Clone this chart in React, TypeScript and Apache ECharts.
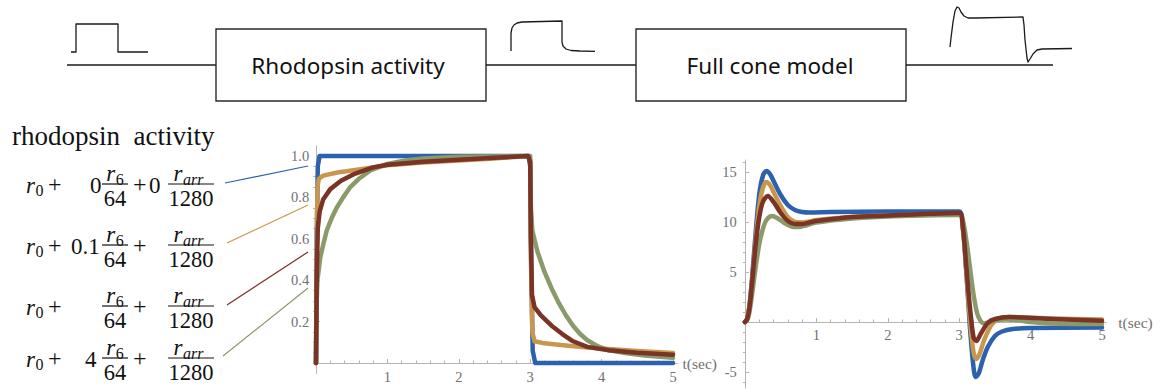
import React, { useEffect, useRef } from "react";
import * as echarts from "echarts";

// ---------- colours ----------
const BLUE = "#2C62AD";
const GOLD = "#C9964E";
const BROWN = "#7A3325";
const GREEN = "#8A9A6B";
const AXIS = "#b5b5b5";
const LABEL = "#707070";
const SERIF = '"Liberation Serif", "Times New Roman", serif';
const SANS = '"Noto Sans", "Open Sans", sans-serif';

// ---------- left chart: rhodopsin activity [t, value] ----------
const rhoBlue = [[0, 0], [0.01, 0.6], [0.025, 0.95], [0.05, 1], [2.98, 1], [3.0, 0.95], [3.015, 0.45], [3.035, 0.06], [3.07, 0], [5, 0]];
const rhoGold = [[0, 0], [0.01, 0.5], [0.02, 0.85], [0.04, 0.89], [0.1, 0.905], [0.3, 0.92], [0.6, 0.935], [1, 0.955], [1.5, 0.968], [2, 0.978], [2.5, 0.988], [2.97, 1.0], [3.0, 0.98], [3.01, 0.5], [3.03, 0.15], [3.06, 0.105], [3.2, 0.095], [3.5, 0.085], [3.8, 0.075], [4.1, 0.068], [4.5, 0.058], [5, 0.048]];
const rhoGreen = [[0, 0], [0.01, 0.3], [0.02, 0.4], [0.06, 0.51], [0.1, 0.57], [0.15, 0.64], [0.22, 0.7], [0.29, 0.75], [0.38, 0.8], [0.48, 0.85], [0.6, 0.89], [0.76, 0.93], [1, 0.962], [1.25, 0.978], [1.5, 0.988], [2, 0.996], [3, 1.0], [3.01, 0.75], [3.03, 0.64], [3.1, 0.54], [3.2, 0.44], [3.3, 0.36], [3.4, 0.29], [3.5, 0.23], [3.6, 0.18], [3.7, 0.14], [3.8, 0.11], [3.95, 0.08], [4.1, 0.062], [4.3, 0.05], [4.6, 0.036], [5, 0.025]];
const rhoBrown = [[0, 0], [0.01, 0.4], [0.025, 0.65], [0.05, 0.73], [0.1, 0.79], [0.2, 0.84], [0.35, 0.88], [0.55, 0.915], [0.8, 0.945], [1, 0.958], [1.5, 0.972], [2, 0.982], [2.5, 0.991], [2.97, 1.0], [3.0, 0.97], [3.01, 0.6], [3.025, 0.33], [3.06, 0.27], [3.15, 0.23], [3.3, 0.18], [3.45, 0.14], [3.6, 0.105], [3.8, 0.078], [4.1, 0.062], [4.5, 0.05], [5, 0.04]];

// ---------- right chart: full cone model [t, value] ----------
const coneBlue = [[0, 0], [0.03, 0.3], [0.06, 1.5], [0.1, 4.5], [0.15, 9], [0.2, 12.8], [0.25, 14.6], [0.3, 15.1], [0.35, 14.8], [0.4, 14.1], [0.5, 12.7], [0.6, 11.7], [0.7, 11.2], [0.8, 11.0], [0.9, 10.95], [1.2, 11.0], [2, 11.05], [3, 11.05], [3.05, 9.5], [3.1, 5], [3.15, -0.5], [3.2, -4.5], [3.23, -5.5], [3.27, -5.2], [3.33, -3.8], [3.4, -2.5], [3.5, -1.4], [3.6, -0.95], [3.75, -0.7], [4, -0.6], [5, -0.55]];
const coneGold = [[0, 0], [0.03, 0.3], [0.06, 1.4], [0.1, 4.2], [0.15, 8.3], [0.2, 11.6], [0.25, 13.4], [0.3, 14.0], [0.35, 13.7], [0.4, 13], [0.5, 11.6], [0.6, 10.5], [0.7, 10.0], [0.8, 9.95], [0.9, 10.05], [1, 10.2], [1.5, 10.5], [2, 10.65], [2.5, 10.75], [3, 10.8], [3.05, 9.4], [3.1, 5], [3.15, 0.3], [3.2, -3], [3.24, -3.7], [3.28, -3.3], [3.35, -1.8], [3.45, -0.3], [3.55, 0.3], [3.7, 0.5], [3.9, 0.45], [4.3, 0.35], [5, 0.25]];
const coneGreen = [[0, 0], [0.03, 0.2], [0.06, 0.9], [0.1, 2.8], [0.15, 5.5], [0.2, 7.8], [0.25, 9.3], [0.3, 10.2], [0.38, 10.6], [0.45, 10.4], [0.55, 9.9], [0.65, 9.55], [0.75, 9.5], [0.85, 9.65], [1, 9.95], [1.5, 10.35], [2, 10.55], [2.5, 10.65], [3, 10.7], [3.05, 10.2], [3.1, 8.2], [3.15, 5.5], [3.2, 2.8], [3.25, 0.9], [3.3, 0.1], [3.35, -0.15], [3.4, -0.05], [3.5, 0.15], [3.65, 0.25], [3.8, 0.2], [4, 0.0], [4.3, -0.15], [5, -0.2]];
const coneBrown = [[0, 0], [0.03, 0.3], [0.06, 1.3], [0.1, 4], [0.15, 7.8], [0.2, 10.5], [0.25, 12], [0.32, 12.6], [0.4, 12], [0.5, 10.9], [0.6, 10.1], [0.7, 9.8], [0.8, 9.8], [0.9, 9.95], [1, 10.1], [1.5, 10.5], [2, 10.65], [2.5, 10.8], [3, 10.9], [3.05, 9.6], [3.1, 5.5], [3.15, 1.5], [3.2, -1.5], [3.24, -1.9], [3.3, -1.2], [3.4, -0.1], [3.5, 0.3], [3.7, 0.5], [3.9, 0.45], [4.3, 0.3], [5, 0.12]];

// ---------- tick labels ----------
const leftXTicks = [1, 2, 3, 4, 5];
const leftYTicks = [0.2, 0.4, 0.6, 0.8, 1.0];
const rightXTicks = [1, 2, 3, 4, 5];
const rightYTicks = [-5, 5, 10, 15];

const leftXMinor: number[] = [];
for (let i = 1; i <= 25; i++) if (i % 5 !== 0) leftXMinor.push(+(i * 0.2).toFixed(2));
const leftYMinor: number[] = [];
for (let i = 1; i <= 20; i++) if (i % 4 !== 0) leftYMinor.push(+(i * 0.05).toFixed(2));
const rightXMinor = leftXMinor.slice();
const rightYMinor: number[] = [];
for (let i = -6; i <= 16; i++) if (i % 5 !== 0) rightYMinor.push(i);

// ---------- text ----------
const TITLE_TOP1 = "Rhodopsin activity";
const TITLE_TOP2 = "Full cone model";
const TITLE_LEFT = "rhodopsin  activity";
const AXIS_NAME = "t(sec)";

function hiddenAxis(grid: number, min: number, max: number) {
  return { type: "value", gridIndex: grid, min, max, show: false, axisLine: { onZero: false }, splitLine: { show: false } };
}
function majorX(grid: number, min: number, max: number, ticks: number[], nameGap: number, margin: number) {
  return {
    type: "value", gridIndex: grid, min, max, position: "bottom",
    axisLine: { show: true, onZero: false, lineStyle: { color: AXIS, width: 1 } },
    axisTick: { show: true, inside: true, length: 4, customValues: ticks, lineStyle: { color: AXIS, width: 1 } },
    axisLabel: { show: true, customValues: ticks, color: LABEL, fontFamily: SERIF, fontSize: 14.5, margin },
    splitLine: { show: false },
    name: AXIS_NAME, nameLocation: "end", nameGap,
    nameTextStyle: { color: LABEL, fontFamily: SERIF, fontSize: 15.5, align: "left", verticalAlign: "middle" },
  };
}
function minorX(grid: number, min: number, max: number, ticks: number[]) {
  return {
    type: "value", gridIndex: grid, min, max, position: "bottom",
    axisLine: { show: false, onZero: false },
    axisTick: { show: true, inside: true, length: 2.5, customValues: ticks, lineStyle: { color: AXIS, width: 1 } },
    axisLabel: { show: false }, splitLine: { show: false },
  };
}
function majorY(grid: number, min: number, max: number, ticks: number[], fmt: (v: number) => string, margin: number) {
  return {
    type: "value", gridIndex: grid, min, max, position: "left",
    axisLine: { show: true, onZero: true, lineStyle: { color: AXIS, width: 1 } },
    axisTick: { show: true, inside: true, length: 4, customValues: ticks, lineStyle: { color: AXIS, width: 1 } },
    axisLabel: { show: true, customValues: ticks, formatter: fmt, color: LABEL, fontFamily: SERIF, fontSize: 14.5, margin },
    splitLine: { show: false },
  };
}
function minorY(grid: number, min: number, max: number, ticks: number[]) {
  return {
    type: "value", gridIndex: grid, min, max, position: "left",
    axisLine: { show: false, onZero: true },
    axisTick: { show: true, inside: true, length: 2.5, customValues: ticks, lineStyle: { color: AXIS, width: 1 } },
    axisLabel: { show: false }, splitLine: { show: false },
  };
}
function line(data: number[][], color: string, xi: number, yi: number, smooth: number | boolean, width: number) {
  return {
    type: "line", xAxisIndex: xi, yAxisIndex: yi, data, smooth,
    showSymbol: false, symbol: "none", silent: true,
    lineStyle: { color, width, cap: "round", join: "round" },
  };
}

// ---------- graphic helpers ----------
function txt(x: number, y: number, text: string, size: number, italic = false, align = "left", family = SERIF) {
  return {
    type: "text", x, y, silent: true,
    style: { text, fontSize: size, fontFamily: family, fontStyle: italic ? "italic" : "normal", fill: "#111", align, verticalAlign: "middle" },
  };
}
function seg(x1: number, y1: number, x2: number, y2: number, stroke: string, lw: number) {
  return { type: "line", silent: true, shape: { x1, y1, x2, y2 }, style: { stroke, lineWidth: lw } };
}
function poly(points: number[][], lw = 1.3) {
  return { type: "polyline", silent: true, shape: { points }, style: { stroke: "#1a1a1a", lineWidth: lw, fill: "none", lineJoin: "round" } };
}
function rSub(x: number, y: number, sub: string, italicSub: boolean) {
  return [txt(x, y, "r", 23, true), txt(x + 9.5, y + 5.5, sub, 16, italicSub)];
}
function frac(cx: number, cy: number, sub: string, den: string, barW: number) {
  const italicSub = !/^\d+$/.test(sub);
  const subW = italicSub ? sub.length * 8.5 : sub.length * 8;
  const numW = 9.5 + subW;
  return [
    ...rSub(cx - numW / 2, cy - 10.5, sub, italicSub),
    seg(cx - barW / 2, cy, cx + barW / 2, cy, "#111", 1.2),
    txt(cx, cy + 14, den, 22.5, false, "center"),
  ];
}

const rows = [
  { cy: 184, c1: "0", c1x: 90, c2: "0" },
  { cy: 245, c1: "0.1", c1x: 71, c2: "" },
  { cy: 306, c1: "", c1x: 0, c2: "" },
  { cy: 358, c1: "4", c1x: 85, c2: "" },
];
const connectors = [
  { c: BLUE, p: [225, 183, 308, 166] },
  { c: GOLD, p: [227, 243, 308, 205] },
  { c: BROWN, p: [227, 305, 308, 252] },
  { c: GREEN, p: [223, 356, 308, 288] },
];

function buildGraphics() {
  const els: any[] = [];
  // top block diagram
  els.push(seg(67, 65, 216, 65, "#1a1a1a", 1.3));
  els.push({ type: "rect", silent: true, shape: { x: 216, y: 29, width: 270, height: 72 }, style: { fill: "#fff", stroke: "#2a2a2a", lineWidth: 1.4 } });
  els.push(seg(486, 65, 636, 65, "#1a1a1a", 1.3));
  els.push({ type: "rect", silent: true, shape: { x: 636, y: 29, width: 270, height: 72 }, style: { fill: "#fff", stroke: "#2a2a2a", lineWidth: 1.4 } });
  els.push(seg(906, 65, 1053, 65, "#1a1a1a", 1.3));
  els.push(txt(348, 65, TITLE_TOP1, 22.5, false, "center", SANS));
  els.push(txt(770, 65, TITLE_TOP2, 22.5, false, "center", SANS));
  els.push(poly([[71, 52], [76, 52], [76, 24], [118, 24], [118, 52], [148, 52]]));
  els.push(poly([[511, 51], [511, 33], [512, 28], [514, 25], [517, 23], [522, 22], [562, 21], [562, 42], [563, 46], [566, 49], [571, 50.5], [580, 51], [595, 51.3]]));
  els.push(poly([[950, 47], [951, 38], [953, 22], [955, 11], [957, 7], [959, 8], [961, 12], [964, 16], [968, 18], [975, 18], [1023, 17], [1024, 25], [1025, 40], [1027, 58], [1028, 62], [1030, 59], [1033, 54], [1037, 50], [1042, 49], [1072, 48.5]]));
  // left formulas
  els.push(txt(12, 136, TITLE_LEFT, 27));
  rows.forEach((r) => {
    els.push(...rSub(26, r.cy + 1, "0", false));
    els.push(txt(48, r.cy, "+", 24));
    if (r.c1) els.push(txt(r.c1x, r.cy + 1, r.c1, 23));
    els.push(...frac(115, r.cy, "6", "64", 26));
    els.push(txt(133, r.cy, "+", 24));
    if (r.c2) els.push(txt(149, r.cy + 1, r.c2, 23));
    els.push(...frac(191, r.cy, "arr", "1280", 46));
  });
  connectors.forEach((k) => els.push(seg(k.p[0], k.p[1], k.p[2], k.p[3], k.c, 1.2)));
  return els;
}

// grid geometry (pixels per unit)
const L = { x0: 316, y0: 363, px: 71.4, py: 207, xmin: -0.04, xmax: 5.06, ymin: -0.05, ymax: 1.05 };
const R = { x0: 745, y0: 322, px: 71.4, py: 10, xmin: -0.03, xmax: 5.06, ymin: -6.6, ymax: 16.2 };
function gridOf(g: typeof L) {
  return {
    left: g.x0 + g.xmin * g.px, width: (g.xmax - g.xmin) * g.px,
    top: g.y0 - g.ymax * g.py, height: (g.ymax - g.ymin) * g.py,
    containLabel: false, outerBoundsMode: "none", show: false,
  };
}
// grid whose bottom edge is the y = 0 line: carries the visible time axis
function axisGridOf(g: typeof L) {
  return {
    left: g.x0 + g.xmin * g.px, width: (g.xmax - g.xmin) * g.px,
    top: g.y0 - g.ymax * g.py, height: g.ymax * g.py,
    containLabel: false, outerBoundsMode: "none", show: false,
  };
}

export default function App() {
  const ref = useRef<HTMLDivElement>(null);
  useEffect(() => {
    const chart = echarts.init(ref.current!, null, { renderer: "svg", width: 1164, height: 389 });
    const option: any = {
      animation: false,
      backgroundColor: "#ffffff",
      grid: [gridOf(L), gridOf(R), axisGridOf(L), axisGridOf(R)],
      xAxis: [
        hiddenAxis(0, L.xmin, L.xmax),
        hiddenAxis(1, R.xmin, R.xmax),
        majorX(2, L.xmin, L.xmax, leftXTicks, 3, 6),
        minorX(2, L.xmin, L.xmax, leftXMinor),
        majorX(3, R.xmin, R.xmax, rightXTicks, 12, 5),
        minorX(3, R.xmin, R.xmax, rightXMinor),
      ],
      yAxis: [
        majorY(0, L.ymin, L.ymax, leftYTicks, (v: number) => v.toFixed(1), 4),
        minorY(0, L.ymin, L.ymax, leftYMinor),
        majorY(1, R.ymin, R.ymax, rightYTicks, (v: number) => String(v), 6),
        minorY(1, R.ymin, R.ymax, rightYMinor),
        hiddenAxis(2, 0, L.ymax),
        hiddenAxis(3, 0, R.ymax),
      ],
      series: [
        line(rhoBlue, BLUE, 0, 0, false, 4.5),
        line(rhoGold, GOLD, 0, 0, false, 4.5),
        line(rhoGreen, GREEN, 0, 0, false, 4.5),
        line(rhoBrown, BROWN, 0, 0, false, 4.5),
        line(coneBlue, BLUE, 1, 2, 0.3, 4.5),
        line(coneGold, GOLD, 1, 2, 0.3, 4.5),
        line(coneGreen, GREEN, 1, 2, 0.3, 4.5),
        line(coneBrown, BROWN, 1, 2, 0.3, 4.5),
      ],
      graphic: { elements: buildGraphics() },
    };
    chart.setOption(option);
    return () => chart.dispose();
  }, []);
  return <div ref={ref} style={{ position: "fixed", left: 0, top: 0, width: 1164, height: 389, background: "#fff" }} />;
}
